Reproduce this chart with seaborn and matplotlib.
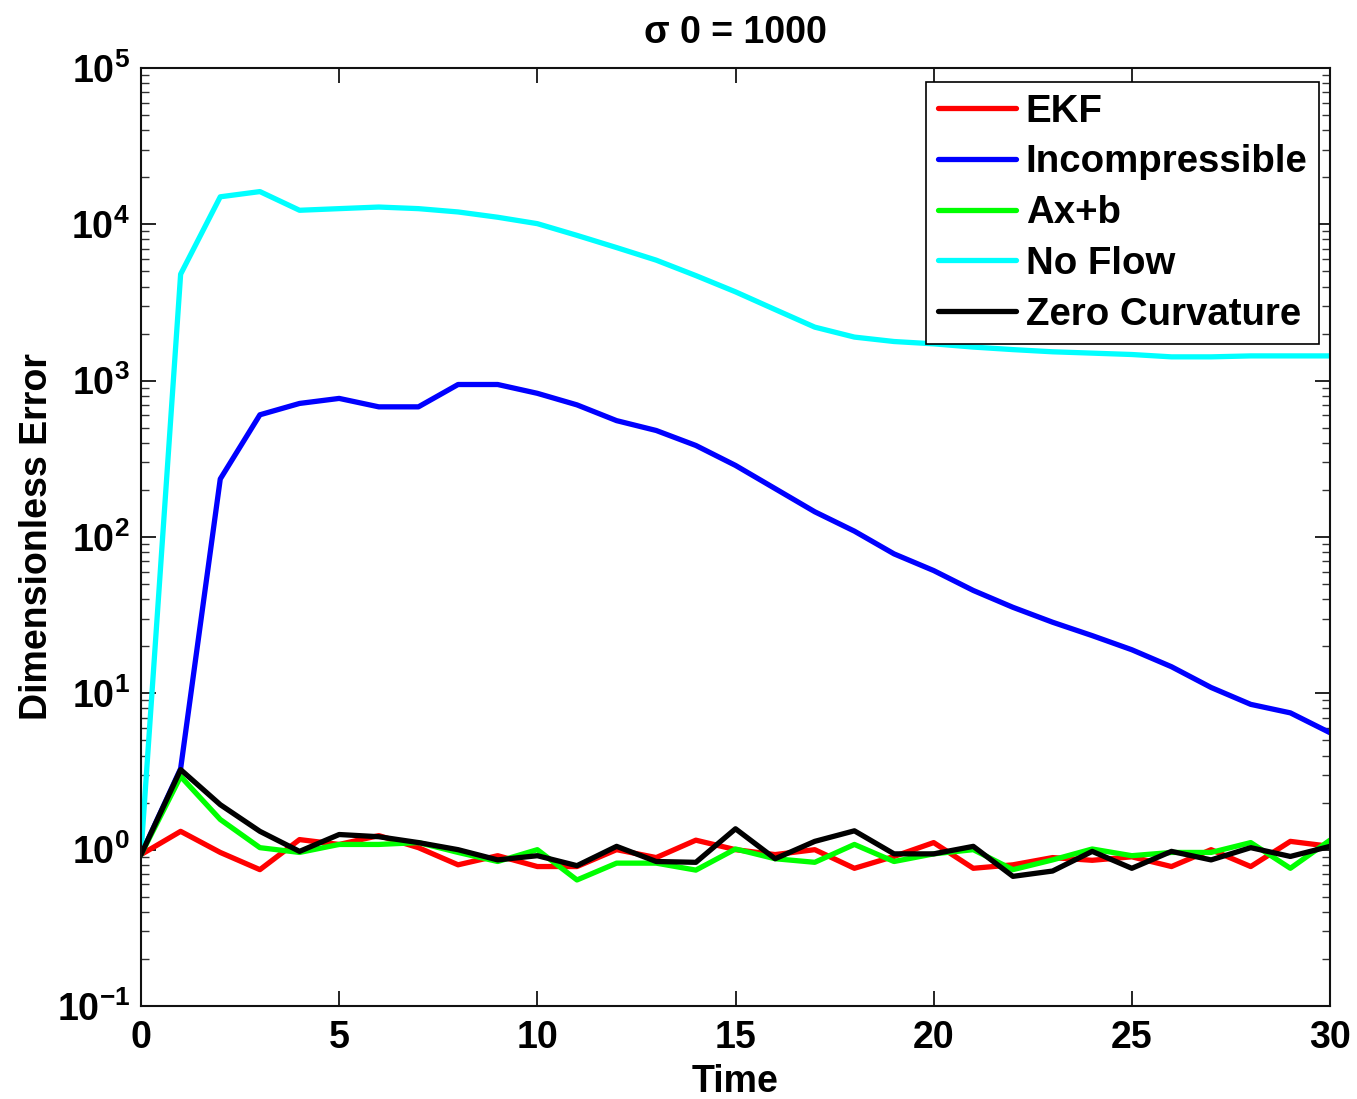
import numpy as np
import pandas as pd
import matplotlib
matplotlib.use("Agg")
import matplotlib.pyplot as plt
import matplotlib.ticker as mticker
import seaborn as sns

# Error curves over time for each estimator
time = list(range(31))
ekf = [0.93, 1.31, 0.96, 0.745, 1.16, 1.08, 1.23, 1.03, 0.80, 0.915, 0.78,
       0.78, 1.0, 0.89, 1.15, 1.0, 0.93, 1.0, 0.76, 0.905, 1.11,
       0.76, 0.80, 0.89, 0.855, 0.9, 0.78, 1.0, 0.78, 1.13, 1.05]
incompressible = [0.93, 3.3, 235, 605, 715, 770, 680, 680, 945, 945, 830,
                  700, 555, 480, 385, 287, 204, 145, 109, 78, 61,
                  45.5, 35.5, 28.5, 23.4, 19, 14.8, 10.9, 8.5, 7.5, 5.6]
axb = [0.93, 2.94, 1.56, 1.03, 0.96, 1.08, 1.08, 1.11, 0.96, 0.84, 1.0,
       0.64, 0.82, 0.82, 0.74, 1.01, 0.875, 0.83, 1.08, 0.84, 0.94,
       1.0, 0.745, 0.86, 1.01, 0.915, 0.96, 0.96, 1.11, 0.76, 1.15]
no_flow = [0.95, 4800, 15000, 16200, 12300, 12600, 12900, 12600, 12000, 11100, 10100,
           8500, 7100, 5900, 4700, 3700, 2850, 2200, 1900, 1780, 1720,
           1640, 1580, 1530, 1500, 1470, 1420, 1420, 1440, 1440, 1440]
zero_curvature = [0.93, 3.25, 1.94, 1.31, 0.975, 1.25, 1.21, 1.11, 1.0, 0.86, 0.915,
                  0.79, 1.05, 0.84, 0.83, 1.36, 0.875, 1.13, 1.32, 0.94, 0.94,
                  1.05, 0.675, 0.73, 0.975, 0.76, 0.975, 0.86, 1.03, 0.905, 1.05]

series_names = ["EKF", "Incompressible", "Ax+b", "No Flow", "Zero Curvature"]
series_colors = ["#ff0000", "#0000ff", "#00ff00", "#00ffff", "#000000"]

x_ticks = [0, 5, 10, 15, 20, 25, 30]
y_ticks = [1e-1, 1e0, 1e1, 1e2, 1e3, 1e4, 1e5]

title_text = "σ 0 = 1000"
x_label = "Time"
y_label = "Dimensionless Error"

df = pd.concat(
    [pd.DataFrame({"Time": time, "Error": vals, "Method": name})
     for name, vals in zip(series_names,
                           [ekf, incompressible, axb, no_flow, zero_curvature])],
    ignore_index=True,
)

sns.set_theme(style="ticks")
plt.rcParams["font.family"] = ["Liberation Sans", "DejaVu Sans"]
plt.rcParams["font.weight"] = "bold"
plt.rcParams["mathtext.fontset"] = "custom"
plt.rcParams["mathtext.rm"] = "Liberation Sans:bold"
plt.rcParams["mathtext.bf"] = "Liberation Sans:bold"
plt.rcParams["mathtext.it"] = "Liberation Sans:bold"
for key in ["text.color", "axes.labelcolor", "xtick.color", "ytick.color", "axes.edgecolor"]:
    plt.rcParams[key] = "black"

fs = 27
fig = plt.figure(figsize=(13.57, 10.99), dpi=100)
ax = fig.add_axes([141 / 1357, 1 - 1006 / 1099, (1330 - 141) / 1357, (1006 - 68) / 1099])

sns.lineplot(
    data=df, x="Time", y="Error", hue="Method",
    hue_order=series_names, palette=dict(zip(series_names, series_colors)),
    linewidth=3.8, ax=ax, legend=True,
)

ax.set_yscale("log")
ax.set_xlim(0, 30)
ax.set_ylim(1e-1, 1e5)
ax.set_xticks(x_ticks)
ax.set_yticks(y_ticks)
ax.yaxis.set_minor_locator(mticker.LogLocator(base=10, subs=np.arange(2, 10), numticks=20))
ax.yaxis.set_minor_formatter(mticker.NullFormatter())

ax.tick_params(axis="both", which="major", direction="in", length=11, width=1.2,
               top=True, right=True, labelsize=fs, colors="black")
ax.tick_params(axis="both", which="minor", direction="in", length=6, width=1.0,
               top=True, right=True, colors="#333333")
ax.tick_params(axis="x", which="major", pad=10)
ax.tick_params(axis="y", which="major", pad=8)
for lbl in ax.get_xticklabels() + ax.get_yticklabels():
    lbl.set_fontweight("bold")
    lbl.set_color("black")

for sp in ax.spines.values():
    sp.set_visible(True)
    sp.set_linewidth(1.5)
    sp.set_color("#111111")

ax.set_title(title_text, fontsize=fs, fontweight="bold", pad=18, color="black")
ax.set_xlabel(x_label, fontsize=fs, fontweight="bold", labelpad=6, color="black")
ax.set_ylabel(y_label, fontsize=fs, fontweight="bold", labelpad=1, color="black")

leg = ax.legend(
    loc="upper right", bbox_to_anchor=(0.9907, 0.985), fontsize=27.6,
    frameon=True, fancybox=False, edgecolor="black", framealpha=1,
    handlelength=2.05, handletextpad=0.25, labelspacing=0.385,
    borderpad=0.3, borderaxespad=0.0,
)
leg.get_frame().set_linewidth(1.2)
for t in leg.get_texts():
    t.set_fontweight("bold")
    t.set_color("black")
for h in leg.get_lines():
    h.set_linewidth(3.8)

fig.savefig("out.png", dpi=100, facecolor="white")
